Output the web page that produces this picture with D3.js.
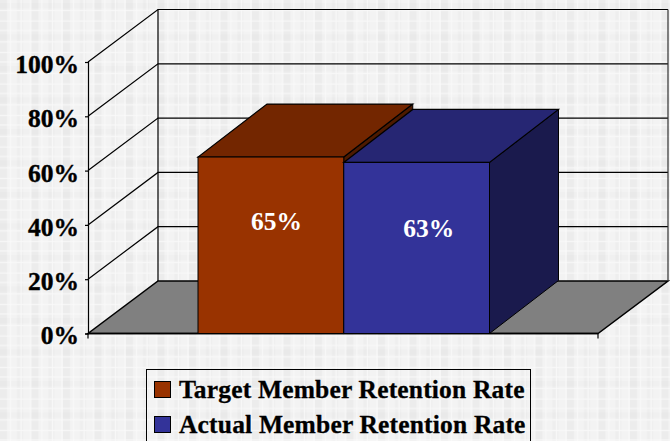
<!DOCTYPE html>
<html>
<head>
<meta charset="utf-8">
<script src="https://cdn.jsdelivr.net/npm/d3@7"></script>
<style>
html, body { margin: 0; padding: 0; background: #f3f3f3; }
svg { display: block; }
text { font-family: "Liberation Serif", serif; font-weight: bold; }
</style>
</head>
<body>
<svg id="drawing_region"></svg>
<script>
const series_names = ['Target Member Retention Rate', 'Actual Member Retention Rate'];
const series_values = [0.65, 0.63];
const value_labels = ['65%', '63%'];
const y_ticks = [0, 0.2, 0.4, 0.6, 0.8, 1];

const face_colors = ['#993300', '#333399'];
const top_colors = ['#732600', '#262673'];
const side_colors = ['#4d1a00', '#1a1a4d'];

const config = {
    width: 670, height: 441,
    front: { left: 88, right: 598, bottom: 333.5, top: 62 },
    depth: { x: 70, y: -52.5 },
    bar_depth: { x: 69, y: -53 },
    bar_left: 198, bar_right: 489.5,
    label_dx: [5.5, 12], label_dy: [73, 75],
    bg_size: 31.5
};

const svg = d3.select('#drawing_region')
    .attr('width', config.width)
    .attr('height', config.height);

// plaid background: grey bands with thin white lines
const s = config.bg_size;
const pattern = svg.append('defs').append('pattern')
    .attr('id', 'plaid')
    .attr('patternUnits', 'userSpaceOnUse')
    .attr('width', s)
    .attr('height', s);
pattern.append('rect').attr('width', s).attr('height', s).attr('fill', '#f3f3f3');
pattern.append('rect').attr('x', 0).attr('width', 7).attr('height', s).attr('fill', '#ececec');
pattern.append('rect').attr('x', 17).attr('width', 6).attr('height', s).attr('fill', '#eeeeee');
pattern.append('rect').attr('y', 3).attr('width', s).attr('height', 5).attr('fill', '#000').attr('opacity', 0.012);
[10, 20.5, 30].forEach(p => {
    pattern.append('rect').attr('x', p).attr('width', 1).attr('height', s).attr('fill', '#fafafa');
    pattern.append('rect').attr('y', p).attr('height', 1).attr('width', s).attr('fill', '#fafafa');
});
svg.append('rect')
    .attr('width', config.width)
    .attr('height', config.height)
    .attr('fill', 'url(#plaid)');

const yscale = d3.scaleLinear()
    .domain([0, 1])
    .range([config.front.bottom, config.front.top]);

const xscale = d3.scaleBand()
    .domain(series_names)
    .range([config.bar_left, config.bar_right])
    .padding(0);

const dx = config.depth.x, dy = config.depth.y;
const bdx = config.bar_depth.x, bdy = config.bar_depth.y;
const line = d3.line();
const f = config.front;

// floor
svg.append('path')
    .attr('d', line([[f.left, f.bottom], [f.right, f.bottom], [f.right + dx, f.bottom + dy], [f.left + dx, f.bottom + dy]]) + 'Z')
    .attr('fill', '#808080')
    .attr('stroke', '#000')
    .attr('stroke-width', 1.5);

// gridlines on side and back wall
svg.append('g').selectAll('path')
    .data(y_ticks.slice(1))
    .join('path')
    .attr('d', d => line([[f.left, yscale(d)], [f.left + dx, yscale(d) + dy], [f.right + dx, yscale(d) + dy]]))
    .attr('fill', 'none')
    .attr('stroke', '#000')
    .attr('stroke-width', 1.2);

// wall edges
svg.append('path')
    .attr('d', line([[f.left + dx, yscale(1) + dy], [f.left + dx, f.bottom + dy]]))
    .attr('stroke', '#000').attr('stroke-width', 1.2);
svg.append('path')
    .attr('d', line([[f.right + dx, yscale(1) + dy], [f.right + dx, f.bottom + dy]]))
    .attr('stroke', '#333').attr('stroke-width', 1.2);

// y axis
const yaxis = d3.axisLeft(yscale)
    .tickValues(y_ticks)
    .tickFormat(d3.format('.0%'))
    .tickSize(3)
    .tickPadding(6);
const yaxis_group = svg.append('g')
    .attr('transform', `translate(${f.left},0)`)
    .call(yaxis);
yaxis_group.select('.domain').attr('stroke', '#000').attr('stroke-width', 1.2);
yaxis_group.selectAll('.tick line').attr('stroke', '#000').attr('stroke-width', 1.2);
yaxis_group.selectAll('text')
    .attr('fill', '#000')
    .attr('dy', '0.41em')
    .attr('stroke', '#000')
    .attr('stroke-width', 0.4)
    .style('font-family', '"Liberation Serif", serif')
    .style('font-size', '25.5px')
    .style('font-weight', 'bold');

// front axis line and end ticks
svg.append('path')
    .attr('d', line([[f.left, f.bottom], [f.right, f.bottom]]))
    .attr('stroke', '#000').attr('stroke-width', 1.5);
svg.append('g').selectAll('path')
    .data([f.left, f.right])
    .join('path')
    .attr('d', d => line([[d, f.bottom], [d, f.bottom + 5]]))
    .attr('stroke', '#000').attr('stroke-width', 1.2);

const bars = series_names.map((name, i) => ({ name, value: series_values[i], label: value_labels[i], i }));

const bar_g = svg.append('g').selectAll('g')
    .data(bars)
    .join('g');

bar_g.append('path') // right side
    .attr('d', d => {
        const x1 = xscale(d.name) + xscale.bandwidth(), y = yscale(d.value);
        return line([[x1, y], [x1 + bdx, y + bdy], [x1 + bdx, f.bottom + bdy], [x1, f.bottom]]) + 'Z';
    })
    .attr('fill', d => side_colors[d.i])
    .attr('stroke', '#000').attr('stroke-width', 1);

bar_g.append('path') // top
    .attr('d', d => {
        const x0 = xscale(d.name), x1 = x0 + xscale.bandwidth(), y = yscale(d.value);
        return line([[x0, y], [x1, y], [x1 + bdx, y + bdy], [x0 + bdx, y + bdy]]) + 'Z';
    })
    .attr('fill', d => top_colors[d.i])
    .attr('stroke', '#000').attr('stroke-width', 1.2);

bar_g.append('rect') // front
    .attr('x', d => xscale(d.name))
    .attr('y', d => yscale(d.value))
    .attr('width', xscale.bandwidth())
    .attr('height', d => f.bottom - yscale(d.value))
    .attr('fill', d => face_colors[d.i])
    .attr('stroke', '#000').attr('stroke-width', 1);

// value labels
bar_g.append('text')
    .attr('x', d => xscale(d.name) + xscale.bandwidth() / 2 + config.label_dx[d.i])
    .attr('y', d => yscale(d.value) + config.label_dy[d.i])
    .attr('text-anchor', 'middle')
    .attr('fill', '#fff')
    .style('font-size', '25.5px')
    .text(d => d.label);

// legend
const legend = svg.append('g');
legend.append('rect')
    .attr('x', 146.5).attr('y', 369.5)
    .attr('width', 384).attr('height', 80)
    .attr('fill', 'none')
    .attr('stroke', '#000').attr('stroke-width', 1);

const legend_items = legend.selectAll('g')
    .data(bars)
    .join('g')
    .attr('transform', d => `translate(154.5,${381.5 + d.i * 35})`);
legend_items.append('rect')
    .attr('width', 16).attr('height', 16)
    .attr('fill', d => face_colors[d.i])
    .attr('stroke', '#000').attr('stroke-width', 1);
legend_items.append('text')
    .attr('x', 24.5).attr('y', 16.5)
    .attr('fill', '#000')
    .attr('stroke', '#000')
    .attr('stroke-width', 0.3)
    .style('font-size', '25.5px')
    .style('letter-spacing', '0.18px')
    .text(d => d.name);
</script>
</body>
</html>
